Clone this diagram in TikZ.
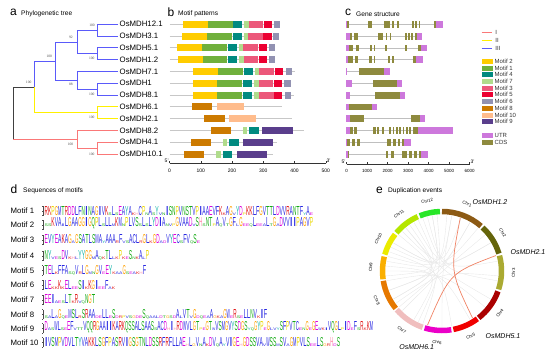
\documentclass[tikz,border=0pt]{standalone}
\usepackage{graphicx}
\usepackage{fontspec}
\setmainfont{Liberation Sans}
\newfontfamily\bsfont{Liberation Serif}
\usetikzlibrary{calc}

\definecolor{cladeI}{RGB}{250,120,120}
\definecolor{cladeII}{RGB}{255,240,0}
\definecolor{cladeIII}{RGB}{90,90,250}
\definecolor{mot1}{RGB}{112,176,60}
\definecolor{mot2}{RGB}{255,204,0}
\definecolor{mot3}{RGB}{236,88,122}
\definecolor{mot4}{RGB}{0,138,128}
\definecolor{mot5}{RGB}{236,0,50}
\definecolor{mot6}{RGB}{146,146,178}
\definecolor{mot7}{RGB}{176,220,140}
\definecolor{mot8}{RGB}{204,122,0}
\definecolor{mot9}{RGB}{90,62,140}
\definecolor{mot10}{RGB}{255,188,140}
\definecolor{utr}{RGB}{205,120,220}
\definecolor{cds}{RGB}{142,138,62}
\definecolor{dupred}{RGB}{240,130,100}
\definecolor{chr1}{RGB}{140,90,20}
\definecolor{chr2}{RGB}{100,100,10}
\definecolor{chr3}{RGB}{170,170,50}
\definecolor{chr4}{RGB}{170,0,0}
\definecolor{chr5}{RGB}{240,0,0}
\definecolor{chr6}{RGB}{235,0,200}
\definecolor{chr7}{RGB}{240,190,190}
\definecolor{chr8}{RGB}{230,120,0}
\definecolor{chr9}{RGB}{250,175,0}
\definecolor{chr10}{RGB}{235,235,0}
\definecolor{chr11}{RGB}{180,230,0}
\definecolor{chr12}{RGB}{40,230,40}

% amino acid colours of the logos
\definecolor{aablue}{RGB}{40,40,225}
\definecolor{aagreen}{RGB}{20,170,20}
\definecolor{aamag}{RGB}{220,0,220}
\definecolor{aared}{RGB}{225,20,20}
\definecolor{aapink}{RGB}{255,140,170}
\definecolor{aaorange}{RGB}{255,160,0}
\definecolor{aayellow}{RGB}{235,215,0}
\definecolor{aateal}{RGB}{20,180,170}
\colorlet{aaA}{aablue}\colorlet{aaC}{aablue}\colorlet{aaF}{aablue}\colorlet{aaI}{aablue}
\colorlet{aaL}{aablue}\colorlet{aaV}{aablue}\colorlet{aaW}{aablue}\colorlet{aaM}{aablue}
\colorlet{aaN}{aagreen}\colorlet{aaQ}{aagreen}\colorlet{aaS}{aagreen}\colorlet{aaT}{aagreen}
\colorlet{aaD}{aamag}\colorlet{aaE}{aamag}
\colorlet{aaK}{aared}\colorlet{aaR}{aared}
\colorlet{aaH}{aapink}\colorlet{aaG}{aaorange}\colorlet{aaP}{aayellow}\colorlet{aaY}{aateal}

\newlength\aaw
\newcount\aan
\def\aacount#1{\ifx#1\relax\else\advance\aan by 1 \expandafter\aacount\fi}
\def\aaput#1{\ifx#1\relax\else\aachar{#1}\expandafter\aaput\fi}
\def\aacol#1{\textcolor{aa#1}{#1}}
\def\aachar#1{\uppercase{\def\aaup{#1}}%
  \if#1\aaup
    \resizebox{\aaw}{9pt}{\expandafter\aacol\aaup}%
  \else
    \resizebox{\aaw}{2.6pt}{\expandafter\aacol\aaup}%
  \fi}
\newcommand\seqlogo[2]{\edef\aaseq{#2}\aan=0 \expandafter\aacount\aaseq\relax
  \aaw=\dimexpr#1/\aan\relax \expandafter\aaput\aaseq\relax}

\tikzset{
  tree/.style={line width=0.9pt},
  tI/.style={tree, draw=cladeI},
  tII/.style={tree, draw=cladeII},
  tIII/.style={tree, draw=cladeIII},
  troot/.style={tree, draw=black!75},
  leaf/.style={anchor=west, inner sep=0.5pt, font=\fontsize{7.8}{8}\selectfont},
  boot/.style={inner sep=0, font=\bsfont\fontsize{3.6}{4}\selectfont, text=black!70},
  panel/.style={anchor=west, inner sep=0, font=\fontsize{12}{12}\selectfont},
  ptitle/.style={anchor=west, inner sep=0, font=\fontsize{6.6}{7}\selectfont},
  rowline/.style={draw=black!22, line width=0.9pt},
  intron/.style={draw=black!25, line width=0.7pt},
  axis/.style={draw=black!80, line width=0.5pt},
  ticklab/.style={inner sep=0, font=\fontsize{5}{5}\selectfont},
  legtext/.style={anchor=west, inner sep=0, font=\fontsize{6}{6}\selectfont, text=black!80},
  swatch/.style={inner sep=0, minimum width=11.5pt, minimum height=5pt},
  motlab/.style={anchor=west, inner sep=0, font=\fontsize{7.8}{8}\selectfont},
  ring/.style={line width=5.5pt},
  chrlab/.style={inner sep=0, font=\fontsize{4.3}{5}\selectfont},
  genelab/.style={inner sep=0, font=\itshape\fontsize{7}{8}\selectfont},
  ghost/.style={draw=black!9, line width=0.4pt},
  duplink/.style={draw=dupred, line width=0.7pt},
}

\begin{document}
\begin{tikzpicture}[x=1pt, y=-1pt]
\useasboundingbox (0,0) rectangle (550,357);

% a: phylogenetic tree
\node[panel] (pa) at (10,12) {a};
\node[ptitle] (ta) at (21,14) {Phylogenetic tree};
\draw[tIII] (118,24.3) -| (97,36.1) -- (118,36.1);
\draw[tIII] (118,47.9) -| (97,59.7) -- (118,59.7);
\draw[tIII] (97,30.2) -| (77,53.8) -- (97,53.8);
\draw[tIII] (118,83.3) -| (97,95.1) -- (118,95.1);
\draw[tIII] (118,71.5) -| (77,89.2) -- (97,89.2);
\draw[tIII] (77,42) -| (55,80.35) -- (77,80.35);
\draw[tIII] (55,61.2) -| (34,87.2);
\draw[tII] (34,87.2) |- (97,112.8);
\draw[tII] (118,106.9) -| (97,118.7) -- (118,118.7);
\draw[troot] (34,87.2) -| (13,139.35);
\draw[tI] (13,139.35) -- (77,139.35);
\draw[tI] (118,130.5) -| (77,148.2) -- (97,148.2);
\draw[tI] (118,142.3) -| (97,154.1) -- (118,154.1);
\foreach \g [count=\i] in {OsMDH12.1,OsMDH3.1,OsMDH5.1,OsMDH1.2,OsMDH7.1,OsMDH1,
    OsMDH8.1,OsMDH6.1,OsMDH2.1,OsMDH8.2,OsMDH4.1,OsMDH10.1}
  \node[leaf] (g\i) at (119,{24.3+11.8*(\i-1)}) {\g};
\foreach \x/\y/\v [count=\i] in {92/25/100, 71/37.3/92, 49.3/56.7/100, 91.7/58/100,
    71/84.3/88, 91.7/94.3/100, 28.7/82/100, 91.7/117.3/100, 70.5/144/100, 91.7/154.3/100}
  \node[boot] (bs\i) at (\x,\y) {\v};

% b: motif patterns
\node[panel] (pb) at (167.5,12) {b};
\node[ptitle] (tb) at (178,14) {Motif patterns};
\begin{scope}[shift={(169.5,0)}, x=0.3127pt]
\foreach \ry/\len/\bars in {
  24.3/353/{mot2/42/123,mot1/123/202,mot4/204/233,mot7/239/254,mot3/254/300,mot5/302/329,mot6/334/353},
  36.1/351/{mot2/40/121,mot1/121/200,mot4/202/231,mot7/237/252,mot3/252/298,mot5/300/327,mot6/332/351},
  47.9/337/{mot2/25/105,mot1/105/185,mot4/187/216,mot7/222/236,mot3/236/283,mot5/285/313,mot6/318/337},
  59.7/337/{mot2/26/106,mot1/106/185,mot4/187/217,mot7/222/237,mot3/237/284,mot5/285/313,mot6/318/337},
  71.5/402/{mot2/76/155,mot1/155/235,mot4/237/266,mot7/272/287,mot3/287/334,mot5/336/364,mot6/371/393},
  83.3/390/{mot2/74/153,mot1/153/233,mot4/235/264,mot7/270/285,mot3/285/332,mot5/334/361,mot6/367/387},
  95.1/397/{mot2/74/153,mot1/153/233,mot4/235/265,mot7/270/285,mot3/285/333,mot5/334/361,mot6/368/388},
  106.9/360/{mot8/72/137,mot10/152/237},
  118.7/392/{mot8/111/176,mot10/191/277},
  130.5/431/{mot8/132/197,mot7/234/249,mot4/255/286,mot9/295/394},
  142.3/345/{mot8/68/133,mot7/170/184,mot4/191/222,mot9/235/332},
  154.1/332/{mot8/46/111,mot7/150/164,mot4/170/201,mot9/215/311}}{
  \draw[rowline] (0,\ry) -- (\len,\ry);
  \foreach \c/\a/\b in \bars
    \fill[\c] (\a,\ry-3.5) rectangle (\b,\ry+3.5);
}
\draw[axis] (0,163.3) -- (500,163.3);
\foreach \t in {0,100,...,500}{
  \draw[axis] (\t,163.3) -- (\t,160.8);
  \node[ticklab] (tb\t) at (\t,170.5) {\t};
}
\node[ticklab] (fiveb) at (-9,160.5) {5'};
\node[ticklab] (threeb) at (509,160.5) {3'};
\end{scope}

% c: gene structure
\node[panel] (pc) at (345,12) {c};
\node[ptitle] (tc) at (356,14) {Gene structure};
\foreach \ry/\a/\b/\utrs/\cdss in {
  24.3/346/442.7/{345.7/347,436/442.7}/{347/349.3,368.3/372.3,384.3/390,392.3/394,397.3/399,412/413.7,415.3/417,418.7/420.3,434.3/436},
  36.1/346/421.7/{345.7/350,417.3/421.7}/{350/351.7,354/357.7,377.7/383.3,385.7/387.3,389.7/391.3,405.3/406.7,408.3/409.7,411.3/413.3,415/417.3},
  47.9/346/427.3/{345.7/349,421/427.3}/{349/353.3,355.7/359,370.3/372.3,374/375.3,385/387.3,405.3/407.3,417.7/421},
  59.7/346/422.7/{345.7/348,416/422.7}/{348/352.7,355/358.3,369/371.7,373.7/375.3,387.7/390,392/394.3,413.3/416},
  71.5/346/390.3/{345.7/346.6,384.3/390.3}/{359.3/384.3},
  83.3/346/402.3/{345.7/351.7,397.3/402.3}/{372.7/397.3},
  95.1/346/405.3/{345.7/350,400/405.3}/{375.3/400},
  106.9/346/377.3/{345.7/349.3,371.7/377.3}/{349.3/371.7},
  118.7/346/425.3/{345.7/350,420/425.3}/{350/364.3,411.3/420},
  130.5/346/453.3/{345.7/350,418.3/453.3}/{350/352.7,354.3/356.7,373.3/375.7,377.3/379.3,381.7/384.3,389.3/391.3,392.7/394.3,396/397.7,399.3/401,402.7/404.3,406/407.7,409.3/411,413.3/418.3},
  142.3/346/411/{345.7/347.3,404/411}/{347.3/350,351.7/355,356.7/360,386.7/391,392.7/395.7,397.7/400,401.7/404},
  154.1/346/428.3/{345.7/347.7,420.7/428.3}/{347.7/349.3,386/388.3,390.7/394,401.7/406.7,409/411.7,414/417.3,419/420.7}}{
  \draw[intron] (\a,\ry) -- (\b,\ry);
  \foreach \u/\v in \utrs
    \fill[utr] (\u,\ry-3.4) rectangle (\v,\ry+3.4);
  \foreach \u/\v in \cdss
    \fill[cds] (\u,\ry-3.4) rectangle (\v,\ry+3.4);
}
\draw[axis] (346.7,164.3) -- (469.7,164.3);
\foreach \t [count=\k from 0] in {0,1000,...,6000}{
  \draw[axis] (346.7+20.5*\k,164.3) -- (346.7+20.5*\k,161.8);
  \node[ticklab, font=\fontsize{4.5}{5}\selectfont] (tc\k) at (346.7+20.5*\k,171) {\t};
}
\node[ticklab] (fivec) at (343.5,161.5) {5'};
\node[ticklab] (threec) at (472.5,161.5) {3'};

% legend
\draw[tI] (481.7,32) -- (492.3,32) node[legtext] (lI) at (495,32) {I};
\draw[tII] (481.7,40) -- (492.3,40) node[legtext] (lII) at (495,40) {II};
\draw[tIII] (481.7,48.3) -- (492.3,48.3) node[legtext] (lIII) at (495,48.3) {III};
\foreach \m/\yy in {2/61.7,1/68.3,4/74.7,7/81.3,3/88,5/94.7,6/101.3,8/108,10/115,9/121.7}{
  \node[swatch, fill=mot\m] (sw\m) at (487.5,\yy) {};
  \node[legtext] (lm\m) at (494.5,\yy) {Motif \m};
}
\node[swatch, fill=utr] (swu) at (487.5,135) {};
\node[legtext] (lu) at (494.5,135) {UTR};
\node[swatch, fill=cds] (swc) at (487.5,142.7) {};
\node[legtext] (lc) at (494.5,142.7) {CDS};

% d: sequence logos
\node[panel] (pd) at (10.5,189) {d};
\node[ptitle] (td) at (23,191) {Sequences of motifs};
\foreach \i/\ly/\lw/\sq in {
  1/211/268.5/RKPGMTRDDLFNINAGIVKsLsEAYAkhCPnAsYvnISNPVNSTVPIAAEVFKkAGvYDpKKLFGVTTLDVVRANTFyAe,
  2/225/268.5/ssKVAiLGAAGGIGQPLsLLmKMnPLVSsLsLYDIAnvpGVAADvSHsNTpAqVtGFlGeeqLeeaLtGaDVVIIPAGVP,
  3/240/155.5/EVYEAKAGaGSATLSMAyAAArFvsACLrGLkGDadVYECsFVqSe,
  4/256/104.5/NYvesDVkhlYYGGmAqkTLlkPkeSnkAlP,
  5/270.5/101.5/TELkFFAsqVrLGmnGVeEYkaaGseakhF,
  6/285/70.5/LEkkKkELeeSIkKGIeeFak,
  7/300/50.5/EEIaesLTkRvqNGT,
  8/314.5/222.5/saLaGqeMSLrSRAAdeLLeSdrpvsgdeSqaaldtgsdAlVTvGdqeaAgkaGWeRseLLNVkIF,
  9/328.5/328.5/DasWLseEFvttVQQRGAAIIKARKQSSALSAASsACDhIhRDWVLGTpeGTwVSMGVYSDGSyqGYPeGlvySFPVTCenGeGEwkiVQGLpIDeFsRkKM,
  10/342.5/295.5/IVSMPVDVLTYVAKKLSGFPASRVIGSGTNLDSSRFRFLLAEhLgVnAkDVqAyVIGEhGDSSVAvWSSmSVaGMPVLSeeLSgrHdS}{
  \node[motlab] (ml\i) at (10.5,\ly) {Motif \i};
  \draw[black!70, line width=0.3pt] (43.3,\ly+4.5) -- (43.3,\ly-5)
    (42.3,\ly+4.5) -- (43.3,\ly+4.5) (42.3,\ly) -- (43.3,\ly) (42.3,\ly-5) -- (43.3,\ly-5);
  \node[anchor=south west, inner sep=0] (logo\i) at (44.5,\ly+4.5) {\seqlogo{\lw pt}{\sq}};
}

% e: duplication events
\node[panel] (pe) at (376,190) {e};
\node[ptitle] (te) at (388,191) {Duplication events};
\coordinate (ctr) at (442,271);
\foreach \p/\q in {300/40,320/120,330/20,280/60,290/170,310/200,340/100,350/240,270/150,
    250/30,260/130,240/320,10/180,30/230,60/300,345/80,315/10,295/350,275/210,235/95,
    205/355,225/50,285/5,325/250,265/335}
  \draw[ghost] ($(ctr)+({\p-90}:56)$) .. controls (ctr) .. ($(ctr)+({\q-90}:56)$);
\foreach \n/\a/\b in {1/0/41,2/43/73,3/75/108,4/110/142,5/143.5/169,6/171/197,
    7/199/229.5,8/231/260.5,9/262/284,10/286/308,11/310/336,12/338/358}{
  \draw[ring, chr\n] ($(ctr)+({\a-90}:59.5)$) arc[start angle={\a-90}, end angle={\b-90}, radius=59.5];
  \pgfmathsetmacro\cm{(\a+\b)/2}
  \pgfmathsetmacro\rot{(\cm>90 && \cm<270) ? 180-\cm : -\cm}
  \node[chrlab, rotate=\rot] (chr\n) at ($(ctr)+({\cm-90}:71.5)$) {Chr\n};
}
\coordinate (d1a) at ($(ctr)+({19-90}:56)$);
\coordinate (d1b) at ($(ctr)+({147-90}:56)$);
\coordinate (d2a) at ($(ctr)+({74-90}:56)$);
\coordinate (d2b) at ($(ctr)+({195-90}:56)$);
\draw[duplink] (d1a) .. controls ($(ctr)+(8,0)$) .. (d1b);
\draw[duplink] (d2a) .. controls ($(ctr)+(8,2)$) .. (d2b);
\node[genelab] (n12) at (490,201.7) {OsMDH1.2};
\node[genelab] (n21) at (528,252) {OsMDH2.1};
\node[genelab] (n51) at (503,335.7) {OsMDH5.1};
\node[genelab] (n61) at (416.7,346.7) {OsMDH6.1};
\end{tikzpicture}
\end{document}
